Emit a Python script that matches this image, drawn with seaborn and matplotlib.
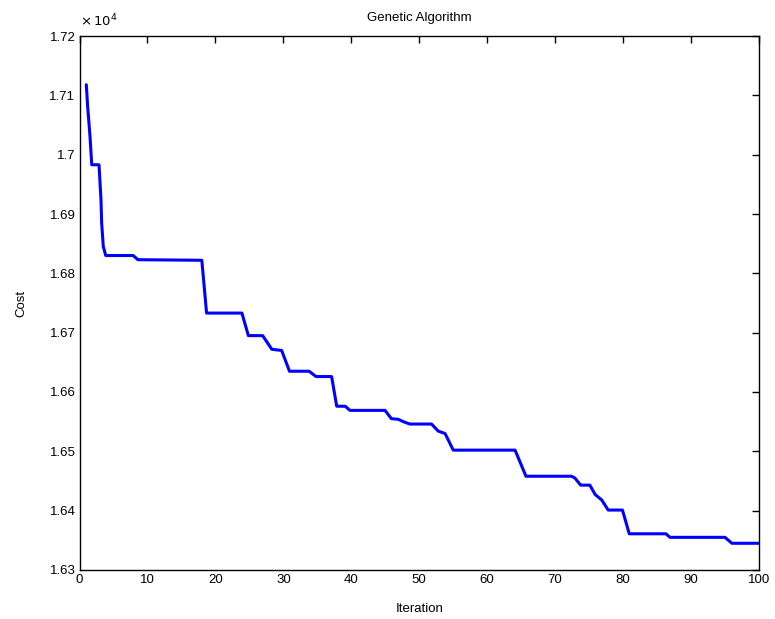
import matplotlib
matplotlib.use("Agg")
import matplotlib.pyplot as plt
import seaborn as sns
import pandas as pd
from matplotlib.ticker import FuncFormatter, MultipleLocator

iteration = [1.0, 1.2, 1.55, 1.8, 2.87, 3.16, 3.26, 3.5, 3.86, 7.9, 8.6, 18.0, 18.7,
             23.9, 24.85, 26.95, 28.3, 29.75, 30.9, 33.8, 34.8, 37.1, 37.85, 39.1,
             39.8, 44.96, 45.9, 46.9, 47.65, 48.6, 51.8, 52.8, 53.8, 55.0, 64.1,
             65.7, 72.4, 72.9, 73.75, 75.1, 75.9, 76.85, 77.8, 79.9, 80.9, 86.3,
             86.9, 95.0, 96.0, 100.0]
cost = [17118, 17081, 17030, 16983, 16983, 16924, 16885, 16845, 16830, 16830, 16823,
        16822, 16733, 16733, 16695, 16695, 16672, 16670, 16635, 16635, 16626, 16626,
        16576, 16576, 16569, 16569, 16555, 16554, 16550, 16546, 16546, 16534, 16530,
        16502, 16502, 16458, 16458, 16455, 16443, 16443, 16427, 16418, 16401, 16401,
        16361, 16361, 16355, 16355, 16345, 16345]

df = pd.DataFrame({"Iteration": iteration, "Cost": cost})

sns.set_theme(style="white")
plt.rcParams['font.family'] = ['Liberation Sans', 'DejaVu Sans']

fig = plt.figure(figsize=(7.75, 6.19), dpi=100)
ax = fig.add_axes([0.1026, 0.0792, 0.8768, 0.8626])

sns.lineplot(data=df, x="Iteration", y="Cost", ax=ax, color="#0000ff",
             linewidth=2.2, sort=False, estimator=None)

ax.set_xlim(0, 100)
ax.set_ylim(16300, 17200)
ax.xaxis.set_major_locator(MultipleLocator(10))
ax.yaxis.set_major_locator(MultipleLocator(100))
ax.yaxis.set_major_formatter(FuncFormatter(lambda v, p: f"{v/1e4:g}"))

for s in ax.spines.values():
    s.set_color("black")
    s.set_linewidth(1.0)

ax.tick_params(direction="in", length=5, width=1, color="black",
               top=True, right=True, labelsize=9.5, labelcolor="black", pad=3)

ax.set_xlabel("Iteration", fontsize=9.5, color="black", labelpad=12)
ax.set_ylabel("Cost", fontsize=9.5, color="black", labelpad=16)
ax.set_title("Genetic Algorithm", fontsize=9.5, color="black", pad=11)

ax.text(0.0, 1.012, r"$\times\,10^{4}$", transform=ax.transAxes, fontsize=9.5,
        ha="left", va="bottom", color="black")

fig.savefig("out.png", dpi=100)
